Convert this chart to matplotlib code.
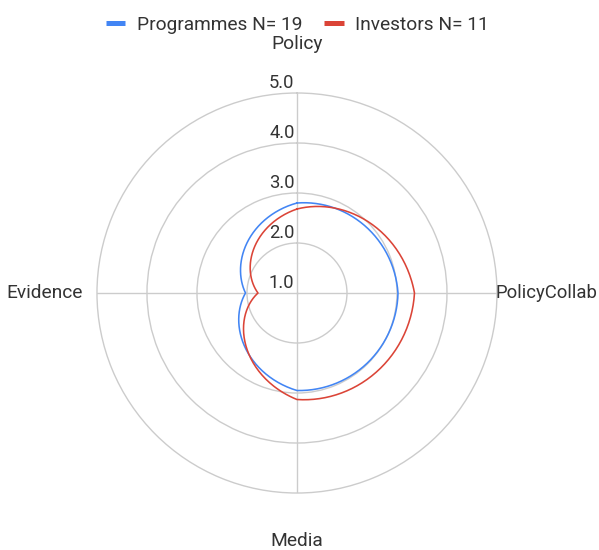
import numpy as np
import matplotlib.pyplot as plt
from matplotlib.lines import Line2D
from matplotlib.transforms import offset_copy

# radar axes, clockwise from the top
categories = ['Policy', 'PolicyCollab', 'Media', 'Evidence']
programmes = [2.80, 3.02, 2.95, 2.03]
investors = [2.68, 3.35, 3.13, 1.78]
series_names = ['Programmes N= 19', 'Investors N= 11']
series_colors = ['#4285F4', '#DB4437']
ring_values = [1.0, 2.0, 3.0, 4.0, 5.0]

plt.rcParams['font.family'] = ['Roboto', 'DejaVu Sans']
text_color = '#333333'
grid_color = '#cccccc'
label_size = 13.8

fig = plt.figure(figsize=(5.99, 5.5), dpi=100)
ax = fig.add_axes([0.1619, 0.1036, 0.6678, 0.7273], projection='polar')
ax.set_theta_offset(np.pi / 2)
ax.set_theta_direction(-1)

angles = np.arange(len(categories)) * 2 * np.pi / len(categories)

for vals, name, color in zip([programmes, investors], series_names, series_colors):
    theta = np.append(angles, 2 * np.pi)
    r = np.append(vals, vals[0])
    line, = ax.plot(theta, r, color=color, lw=1.15, label=name, zorder=3)
    # let the polar transform draw each segment as a spiral (r linear in angle)
    line.get_path()._interpolation_steps = 90

ax.set_ylim(1, 5)
ax.set_yticks(ring_values[1:-1])
ax.set_yticklabels([])
ax.set_xticks(angles)
ax.set_xticklabels([])
ax.grid(True, color=grid_color, lw=1.0)
ax.spines['polar'].set_color(grid_color)
ax.spines['polar'].set_linewidth(1.0)
ax.tick_params(length=0)

# ring value labels up the vertical axis
lab_tr = offset_copy(ax.transData, fig=fig, x=-2.5, y=5, units='dots')
for v in ring_values:
    ax.text(0, v, f'{v:.1f}', transform=lab_tr, ha='right', va='baseline',
            fontsize=13.2, color=text_color)

# category names around the outside
cat_pos = [(5.88, 'center', 'baseline', label_size),
           (4.97, 'left', 'center', 13.3),
           (6.06, 'center', 'baseline', label_size),
           (5.28, 'right', 'center', label_size)]
for ang, cat, (rr, ha, va, fs) in zip(angles, categories, cat_pos):
    ax.text(ang, rr, cat, ha=ha, va=va, fontsize=fs, color=text_color,
            clip_on=False)

handles = [Line2D([0], [0], color=c, lw=3.6, solid_capstyle='butt')
           for c in series_colors]
fig.legend(handles, series_names, loc='center', ncol=2,
           bbox_to_anchor=(0.4967, 1 - 25 / 550), frameon=False,
           fontsize=label_size, labelcolor=text_color, handlelength=1.0,
           handletextpad=0.62, columnspacing=1.15, borderpad=0)

fig.savefig('out.png', dpi=100)
